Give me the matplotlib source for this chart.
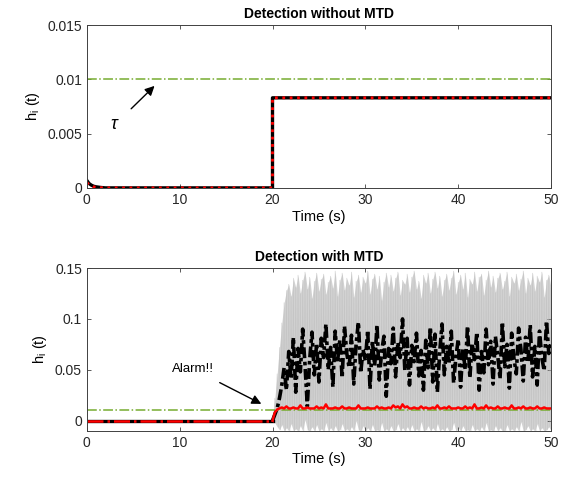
import numpy as np
import matplotlib
matplotlib.use("Agg")
import matplotlib.pyplot as plt

plt.rcParams['font.family'] = ['Liberation Sans', 'DejaVu Sans']
plt.rcParams['mathtext.fontset'] = 'custom'
plt.rcParams['mathtext.rm'] = 'Liberation Sans'
plt.rcParams['mathtext.it'] = 'Liberation Sans:italic'

# top panel: detection without MTD
t_top = [0, 0.25, 0.5, 0.75, 1.0, 1.5, 2.0, 20, 20, 50]
h_top_black = [0.0007, 0.0004, 0.00025, 0.00015, 0.0001, 0.00004, 0.0, 0.0, 0.0083, 0.0083]
h_top_red = [0.0005, 0.0003, 0.0002, 0.0001, 0.00006, 0.00002, 0.0, 0.0, 0.0083, 0.0083]
tau = 0.01

# bottom panel: detection with MTD (before attack)
t_pre = [0, 20]
h_pre = [0.0, 0.0]

# after t = 20 s, sampled every 0.25 s
h_black = [0.000, 0.006, 0.012, 0.022, 0.035, 0.052, 0.030, 0.068, 0.041, 0.082,
           0.028, 0.071, 0.048, 0.090, 0.055, 0.014, 0.060, 0.087, 0.045, 0.076,
           0.038, 0.081, 0.062, 0.095, 0.050, 0.072, 0.033, 0.088, 0.058, 0.079,
           0.042, 0.093, 0.066, 0.052, 0.084, 0.036, 0.075, 0.097, 0.047, 0.070,
           0.059, 0.089, 0.031, 0.078, 0.054, 0.094, 0.040, 0.068, 0.083, 0.024,
           0.071, 0.056, 0.091, 0.043, 0.077, 0.062, 0.100, 0.049, 0.081, 0.035,
           0.074, 0.058, 0.086, 0.044, 0.069, 0.030, 0.079, 0.052, 0.092, 0.038,
           0.085, 0.028, 0.067, 0.095, 0.045, 0.073, 0.056, 0.088, 0.037, 0.063,
           0.080, 0.033, 0.071, 0.050, 0.093, 0.042, 0.076, 0.060, 0.087, 0.030,
           0.068, 0.047, 0.090, 0.055, 0.078, 0.036, 0.083, 0.064, 0.041, 0.097,
           0.053, 0.075, 0.032, 0.086, 0.061, 0.046, 0.091, 0.070, 0.039, 0.082,
           0.057, 0.094, 0.043, 0.073, 0.035, 0.088, 0.062, 0.049, 0.098, 0.066,
           0.075]
h_red = [0.000, 0.008, 0.011, 0.012, 0.013, 0.012, 0.014, 0.012, 0.012, 0.013,
         0.012, 0.012, 0.015, 0.012, 0.012, 0.013, 0.012, 0.012, 0.012, 0.014,
         0.012, 0.013, 0.012, 0.016, 0.012, 0.012, 0.012, 0.013, 0.012, 0.012,
         0.014, 0.012, 0.012, 0.013, 0.012, 0.012, 0.012, 0.015, 0.012, 0.012,
         0.012, 0.013, 0.012, 0.012, 0.012, 0.014, 0.012, 0.013, 0.012, 0.012,
         0.013, 0.012, 0.015, 0.013, 0.014, 0.012, 0.016, 0.013, 0.014, 0.012,
         0.012, 0.013, 0.012, 0.012, 0.014, 0.012, 0.013, 0.012, 0.012, 0.013,
         0.012, 0.015, 0.012, 0.012, 0.013, 0.012, 0.014, 0.012, 0.012, 0.012,
         0.013, 0.012, 0.012, 0.014, 0.012, 0.013, 0.012, 0.016, 0.012, 0.012,
         0.013, 0.012, 0.015, 0.012, 0.013, 0.012, 0.012, 0.014, 0.012, 0.012,
         0.013, 0.012, 0.012, 0.015, 0.012, 0.012, 0.013, 0.012, 0.014, 0.012,
         0.012, 0.013, 0.012, 0.012, 0.014, 0.012, 0.012, 0.013, 0.012, 0.012,
         0.012]
grey_hi = [0.000, 0.022, 0.046, 0.072, 0.096, 0.116, 0.128, 0.134, 0.122, 0.140,
           0.131, 0.143, 0.125, 0.138, 0.146, 0.129, 0.141, 0.120, 0.137, 0.145,
           0.127, 0.139, 0.144, 0.124, 0.136, 0.142, 0.130, 0.147, 0.122, 0.138,
           0.145, 0.128, 0.140, 0.133, 0.146, 0.121, 0.137, 0.143, 0.126, 0.141,
           0.135, 0.147, 0.124, 0.139, 0.144, 0.129, 0.142, 0.118, 0.136, 0.145,
           0.131, 0.143, 0.127, 0.140, 0.146, 0.123, 0.138, 0.134, 0.144, 0.126,
           0.141, 0.147, 0.129, 0.137, 0.120, 0.143, 0.135, 0.145, 0.125, 0.139,
           0.146, 0.130, 0.142, 0.122, 0.138, 0.144, 0.128, 0.140, 0.147, 0.124,
           0.136, 0.143, 0.129, 0.145, 0.121, 0.139, 0.134, 0.146, 0.127, 0.141,
           0.144, 0.123, 0.138, 0.147, 0.131, 0.142, 0.126, 0.140, 0.145, 0.129,
           0.137, 0.146, 0.122, 0.141, 0.135, 0.144, 0.128, 0.139, 0.147, 0.125,
           0.140, 0.133, 0.145, 0.127, 0.142, 0.136, 0.146, 0.121, 0.138, 0.143,
           0.130]
grey_lo = [0.000, -0.002, -0.006, -0.009, -0.004, -0.010, -0.007, -0.010, -0.003, -0.010,
           -0.008, -0.010, -0.005, -0.010, 0.001, -0.009, -0.010, -0.006, -0.010, -0.004,
           -0.010, -0.008, -0.010, -0.002, -0.010, -0.007, -0.010, -0.005, -0.010, -0.009,
           -0.003, -0.010, -0.008, -0.010, -0.006, -0.010, 0.000, -0.009, -0.010, -0.005,
           -0.010, -0.007, -0.010, -0.004, -0.010, -0.009, -0.010, -0.002, -0.010, -0.008,
           -0.010, -0.005, -0.010, -0.009, -0.003, -0.010, -0.007, -0.010, -0.006, -0.010,
           -0.004, -0.010, -0.008, -0.010, -0.001, -0.010, -0.009, -0.005, -0.010, -0.007,
           -0.010, -0.003, -0.010, -0.008, -0.010, -0.006, -0.010, -0.009, -0.002, -0.010,
           -0.007, -0.010, -0.005, -0.010, -0.009, -0.010, -0.004, -0.010, -0.008, -0.010,
           -0.006, -0.010, -0.002, -0.010, -0.009, -0.010, -0.005, -0.010, -0.007, -0.010,
           -0.010, -0.004, -0.010, -0.008, -0.010, -0.006, -0.010, -0.001, -0.010, -0.009,
           -0.005, -0.010, -0.008, -0.010, -0.003, -0.010, -0.007, -0.010, -0.009, -0.006,
           -0.010]

t_post = 20 + 0.25 * np.arange(len(h_black))
green = '#77AC30'
axcol = '#404040'

fig = plt.figure(figsize=(5.67, 4.83), dpi=100)
ax1 = fig.add_axes([0.153, 0.611, 0.819, 0.337])
ax2 = fig.add_axes([0.153, 0.108, 0.819, 0.337])

# ---- top
ax1.axhline(tau, color=green, ls='-.', lw=1.1)
ax1.plot(t_top, h_top_black, color='k', ls='-', lw=2.4)
ax1.plot(t_top, h_top_red, color='red', ls=':', lw=2.0)
ax1.set_xlim(0, 50)
ax1.set_ylim(0, 0.015)
ax1.set_yticks([0, 0.005, 0.01, 0.015])
ax1.set_yticklabels(['0', '0.005', '0.01', '0.015'])
ax1.set_title('Detection without MTD', fontsize=10, fontweight='bold', pad=5)
ax1.annotate(r'$\tau$', xy=(7.3, 0.0094), xytext=(3.0, 0.0058), fontsize=13,
             ha='center', va='center',
             arrowprops=dict(arrowstyle='-|>', color='k', lw=1.0, mutation_scale=14,
                             shrinkA=9, shrinkB=0))

# ---- bottom
t_zig = np.ravel(np.column_stack([t_post, t_post + 0.125]))
h_zig = np.ravel(np.column_stack([grey_hi, grey_lo]))
ax2.fill_between(t_post, grey_lo, grey_hi, color='#d2d2d2', lw=0)
ax2.plot(t_zig, h_zig, color='#c0c0c0', lw=0.5, alpha=0.7)
ax2.plot(t_pre, h_pre, color='k', ls='-', lw=2.4)
ax2.plot(t_post, h_black, color='k', lw=2.6, dashes=(3, 1, 1, 1))
ax2.axhline(tau, color=green, ls='-.', lw=1.1)
ax2.plot(t_pre, h_pre, color='red', ls='-.', lw=1.8)
ax2.plot(t_post, h_red, color='red', ls='-', lw=1.8)
ax2.set_xlim(0, 50)
ax2.set_ylim(-0.01, 0.15)
ax2.set_yticks([0, 0.05, 0.1, 0.15])
ax2.set_yticklabels(['0', '0.05', '0.1', '0.15'])
ax2.set_title('Detection with MTD', fontsize=10, fontweight='bold', pad=5)
ax2.annotate('Alarm!!', xy=(18.8, 0.0165), xytext=(11.4, 0.051), fontsize=9.5,
             ha='center', va='center',
             arrowprops=dict(arrowstyle='-|>', color='k', lw=1.0, mutation_scale=14,
                             shrinkA=8, shrinkB=0))

for ax in (ax1, ax2):
    ax.set_xticks([0, 10, 20, 30, 40, 50])
    ax.set_xlabel('Time (s)', fontsize=10.5, labelpad=2)
    ax.set_ylabel(r'h$_\mathregular{i}$ (t)', fontsize=10.5, labelpad=4)
    ax.tick_params(direction='in', top=True, right=True, length=3, width=0.6,
                   colors=axcol, labelsize=10, labelcolor='#262626')
    for s in ax.spines.values():
        s.set_color(axcol)
        s.set_linewidth(0.7)

fig.savefig('out.png', dpi=100)
